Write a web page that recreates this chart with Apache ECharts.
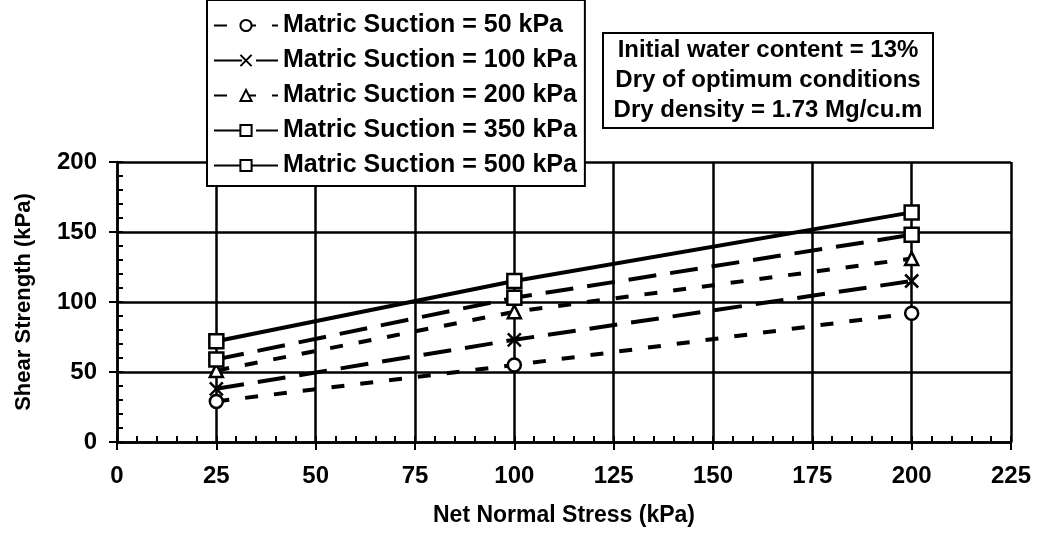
<!DOCTYPE html>
<html>
<head>
<meta charset="utf-8">
<script src="https://cdn.jsdelivr.net/npm/echarts@6/dist/echarts.min.js"></script>
<style>
    html, body { margin: 0; padding: 0; background: #fff; }
    #chart { width: 1039px; height: 533px; }
</style>
</head>
<body>
<div id="chart"></div>
<script>
// net normal stress (kPa) where each test was run
const stress = [25, 100, 200]
// shear strength (kPa), one list per matric suction
const suction50 = [29, 55, 92]
const suction100 = [38, 73, 115]
const suction200 = [51, 93, 131]
const suction350 = [59, 103, 148]
const suction500 = [72, 115, 164]
const seriesNames = [
    'Matric Suction = 50 kPa',
    'Matric Suction = 100 kPa',
    'Matric Suction = 200 kPa',
    'Matric Suction = 350 kPa',
    'Matric Suction = 500 kPa'
]
const noteLines = [
    'Initial water content = 13%',
    'Dry of optimum conditions',
    'Dry density = 1.73 Mg/cu.m'
]

const font = '"Liberation Sans", Arial, sans-serif'
const shortDash = [13, 16]
const longDash = [28, 14]

function pairs(ys) {
    return stress.map((x, i) => [x, ys[i]])
}

function makeSeries(name, ys, symbol, size, dash) {
    return {
        name: name,
        type: 'line',
        data: pairs(ys),
        symbol: symbol,
        symbolSize: size,
        showSymbol: true,
        xAxisIndex: 0,
        yAxisIndex: 0,
        lineStyle: { color: '#000', width: 4, type: dash },
        itemStyle: { color: '#fff', borderColor: '#000', borderWidth: 2.5 },
        emphasis: { disabled: true },
        z: 5
    }
}

const crossPath = 'path://M0,0L10,10M10,0L0,10'

let chart = echarts.init(document.getElementById('chart'))
let option = {
    animation: false,
    backgroundColor: '#fff',
    grid: { left: 117, right: 28, top: 162, bottom: 91 },
    legend: {
        orient: 'vertical',
        left: 207,
        top: 0,
        padding: [11, 8, 6, 6],
        itemGap: 6,
        itemWidth: 64,
        itemHeight: 14,
        borderColor: '#000',
        borderWidth: 2,
        backgroundColor: '#fff',
        textStyle: { fontFamily: font, fontWeight: 'bold', fontSize: 25, lineHeight: 29, color: '#000' },
        data: seriesNames
    },
    xAxis: [
        {
            type: 'value',
            min: 0,
            max: 225,
            interval: 25,
            name: 'Net Normal Stress (kPa)',
            nameLocation: 'middle',
            nameGap: 62,
            nameTextStyle: { fontFamily: font, fontWeight: 'bold', fontSize: 23, color: '#000' },
            axisLine: { lineStyle: { color: '#000', width: 2.5 } },
            axisTick: { inside: true, length: 6, lineStyle: { color: '#000', width: 2 } },
            minorTick: { show: true, splitNumber: 5, length: 6, lineStyle: { color: '#000', width: 2 } },
            axisLabel: { margin: 22, fontFamily: font, fontWeight: 'bold', fontSize: 24, color: '#000' },
            splitLine: { show: true, lineStyle: { color: '#000', width: 2.5 } }
        },
        {
            type: 'value',
            position: 'bottom',
            min: 0,
            max: 225,
            interval: 25,
            axisLine: { show: false },
            axisTick: { inside: false, length: 8, lineStyle: { color: '#000', width: 2 } },
            axisLabel: { show: false },
            splitLine: { show: false }
        }
    ],
    yAxis: [
        {
            type: 'value',
            min: 0,
            max: 200,
            interval: 50,
            name: 'Shear Strength (kPa)',
            nameLocation: 'middle',
            nameGap: 82,
            nameTextStyle: { fontFamily: font, fontWeight: 'bold', fontSize: 22, color: '#000' },
            axisLine: { show: true, lineStyle: { color: '#000', width: 2.5 } },
            axisTick: { show: true, inside: true, length: 6, lineStyle: { color: '#000', width: 2 } },
            minorTick: { show: true, splitNumber: 5, length: 6, lineStyle: { color: '#000', width: 2 } },
            axisLabel: { margin: 20, fontFamily: font, fontWeight: 'bold', fontSize: 24, color: '#000' },
            splitLine: { show: true, lineStyle: { color: '#000', width: 2.5 } }
        },
        {
            type: 'value',
            position: 'left',
            min: 0,
            max: 200,
            interval: 50,
            axisLine: { show: false },
            axisTick: { show: true, inside: false, length: 8, lineStyle: { color: '#000', width: 2 } },
            axisLabel: { show: false },
            splitLine: { show: false }
        }
    ],
    series: [
        makeSeries(seriesNames[0], suction50, 'circle', 13, shortDash),
        makeSeries(seriesNames[1], suction100, crossPath, 13, longDash),
        makeSeries(seriesNames[2], suction200, 'triangle', 13, shortDash),
        makeSeries(seriesNames[3], suction350, 'rect', 14, longDash),
        makeSeries(seriesNames[4], suction500, 'rect', 14, 'solid')
    ],
    graphic: [
        {
            type: 'group',
            left: 602,
            top: 32,
            children: [
                {
                    type: 'rect',
                    shape: { x: 0, y: 0, width: 330, height: 95 },
                    style: { fill: '#fff', stroke: '#000', lineWidth: 2 }
                },
                {
                    type: 'text',
                    x: 165,
                    y: 47,
                    style: {
                        text: noteLines.join('\n'),
                        fontFamily: font,
                        fontWeight: 'bold',
                        fontSize: 24,
                        lineHeight: 30,
                        fill: '#000',
                        align: 'center',
                        verticalAlign: 'middle'
                    }
                }
            ]
        }
    ]
}
chart.setOption(option)
</script>
</body>
</html>
